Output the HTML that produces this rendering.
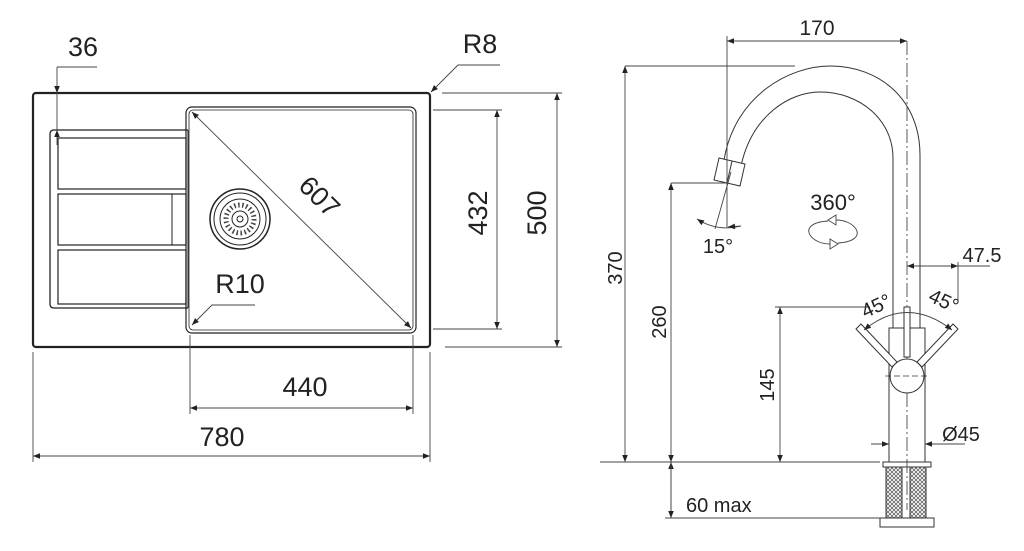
<!DOCTYPE html>
<html><head><meta charset="utf-8"><style>
html,body{margin:0;padding:0;background:#fff;}
svg{display:block;}
text{font-family:"Liberation Sans",sans-serif;fill:#222;}
</style></head><body>
<svg width="1024" height="551" viewBox="0 0 1024 551" xmlns="http://www.w3.org/2000/svg">
<defs>
<marker id="a" viewBox="0 0 10 10" refX="10" refY="5" markerWidth="16" markerHeight="7" markerUnits="userSpaceOnUse" orient="auto-start-reverse"><path d="M0,1 L10,5 L0,9 z" fill="#222"/></marker>
<pattern id="k" width="4" height="4" patternUnits="userSpaceOnUse"><path d="M0,0 L4,4 M4,0 L0,4" stroke="#666" stroke-width="0.8"/></pattern>
</defs>
<g fill="none" stroke="#222">
<rect x="33" y="93" width="397" height="254" rx="3" stroke-width="2.2"/>
<rect x="186" y="107" width="230" height="226" rx="6" stroke-width="1.2"/>
<rect x="189" y="110" width="224" height="220" rx="4" stroke-width="0.8"/>
<path d="M188,130 L54,130 Q50,130 50,134 L50,304 Q50,308 54,308 L188,308" stroke-width="1.3"/>
<rect x="58" y="138" width="128" height="51" stroke-width="1.2"/>
<rect x="58" y="194" width="128" height="51" stroke-width="1.2"/>
<rect x="58" y="250" width="128" height="54" stroke-width="1.2"/>
<line x1="172" y1="194" x2="172" y2="245" stroke-width="1"/>
<line x1="188" y1="130" x2="188" y2="308" stroke-width="1"/>
<circle cx="240" cy="219" r="30" stroke-width="1.5"/>
<circle cx="240" cy="219" r="26" stroke-width="1"/>
<circle cx="240" cy="219" r="20" stroke-width="1"/>
<circle cx="240" cy="219" r="14" stroke-width="5" stroke-dasharray="1.5 2.5" stroke="#444"/>
<circle cx="240" cy="219" r="8" stroke-width="1"/>
<circle cx="240" cy="219" r="3" stroke-width="1"/>
</g>
<g fill="none" stroke="#444" stroke-width="0.9">
<line x1="192" y1="112" x2="411" y2="328" marker-start="url(#a)" marker-end="url(#a)"/>
<polyline points="255,305 212,305 192,325" marker-end="url(#a)"/>
<line x1="57" y1="67" x2="97" y2="67"/>
<line x1="57" y1="67" x2="57" y2="93" marker-end="url(#a)"/>
<line x1="57" y1="145" x2="57" y2="130" marker-end="url(#a)"/>
<line x1="57" y1="93" x2="57" y2="130"/>
<polyline points="500,65 458,65 431,92" marker-end="url(#a)"/>
<line x1="433" y1="110" x2="502" y2="110"/>
<line x1="433" y1="329" x2="502" y2="329"/>
<line x1="497" y1="110" x2="497" y2="329" marker-start="url(#a)" marker-end="url(#a)"/>
<line x1="442" y1="93" x2="562" y2="93"/>
<line x1="445" y1="347" x2="562" y2="347"/>
<line x1="557" y1="93" x2="557" y2="347" marker-start="url(#a)" marker-end="url(#a)"/>
<line x1="190" y1="335" x2="190" y2="414"/>
<line x1="413" y1="335" x2="413" y2="414"/>
<line x1="190" y1="408" x2="413" y2="408" marker-start="url(#a)" marker-end="url(#a)"/>
<line x1="33" y1="352" x2="33" y2="462"/>
<line x1="430" y1="352" x2="430" y2="462"/>
<line x1="33" y1="456" x2="430" y2="456" marker-start="url(#a)" marker-end="url(#a)"/>
</g>
<text x="83" y="56" font-size="27" text-anchor="middle">36</text>
<text x="480" y="53" font-size="27" text-anchor="middle">R8</text>
<text x="240" y="293" font-size="27" text-anchor="middle">R10</text>
<text x="0" y="0" font-size="27" text-anchor="middle" transform="translate(313,203) rotate(45)">607</text>
<text x="0" y="0" font-size="27" text-anchor="middle" transform="translate(487,213) rotate(-90)">432</text>
<text x="0" y="0" font-size="27" text-anchor="middle" transform="translate(546,213) rotate(-90)">500</text>
<text x="305" y="396" font-size="27" text-anchor="middle">440</text>
<text x="222" y="446" font-size="27" text-anchor="middle">780</text>

<g fill="none" stroke="#333" stroke-width="1">
<path d="M724,160 C735,95 790,66 830,66 C880,66 920,100 920,155 L920,328"/>
<path d="M741,166 C752,115 790,92 820,92 C860,92 893,120 893,158 L893,328"/>
<polygon points="719,158 745,164 740,186 714,180" fill="#fff"/>
<line x1="732" y1="161" x2="727" y2="183"/>
<line x1="907" y1="41" x2="907" y2="510" stroke-dasharray="14 3 2 3" stroke-width="0.8"/>
<rect x="889" y="328" width="36" height="134"/>
<circle cx="907" cy="376" r="17" fill="#fff"/>
<line x1="885" y1="376" x2="929" y2="376" stroke-dasharray="6 3" stroke-width="0.7"/>
<rect x="904" y="307" width="6" height="50" fill="#fff"/>
<polygon points="856,329 861,324 897,362 892,367" fill="#fff"/>
<polygon points="958,329 953,324 917,362 922,367" fill="#fff"/>
<rect x="883" y="462" width="48" height="5"/>
<rect x="886" y="467" width="16" height="51" fill="url(#k)"/>
<rect x="910" y="467" width="16" height="51" fill="url(#k)"/>
<rect x="880" y="518" width="54" height="9"/>
</g>
<g fill="none" stroke="#444" stroke-width="0.9">
<line x1="727" y1="41" x2="907" y2="41" marker-start="url(#a)" marker-end="url(#a)"/>
<line x1="727" y1="36" x2="727" y2="228"/>
<line x1="731" y1="172" x2="715" y2="229"/>
<path d="M697,219 Q717,232 741,226" marker-start="url(#a)"/>
<line x1="741" y1="226" x2="728" y2="227" marker-end="url(#a)"/>
<line x1="625" y1="66" x2="795" y2="66"/>
<line x1="625" y1="66" x2="625" y2="462" marker-start="url(#a)" marker-end="url(#a)"/>
<line x1="671" y1="183" x2="727" y2="183"/>
<line x1="671" y1="183" x2="671" y2="462" marker-start="url(#a)" marker-end="url(#a)"/>
<line x1="775" y1="307" x2="870" y2="307"/>
<line x1="780" y1="307" x2="780" y2="462" marker-start="url(#a)" marker-end="url(#a)"/>
<line x1="600" y1="462" x2="880" y2="462"/>
<line x1="671" y1="518" x2="671" y2="462" marker-end="url(#a)"/>
<line x1="671" y1="462" x2="671" y2="518" marker-end="url(#a)"/>
<line x1="665" y1="518" x2="880" y2="518"/>
<line x1="907" y1="266" x2="958" y2="266" marker-start="url(#a)" marker-end="url(#a)"/>
<line x1="958" y1="262" x2="958" y2="300"/>
<line x1="958" y1="266" x2="990" y2="266"/>
<path d="M864,330 Q907,295 952,330" marker-start="url(#a)" marker-end="url(#a)"/>
<line x1="871" y1="444" x2="889" y2="444" marker-end="url(#a)"/>
<line x1="965" y1="444" x2="925" y2="444" marker-end="url(#a)"/>
<path d="M828,221 C812,222 806,228 810,235 C814,241 822,244 830,244"/>
<path d="M838,243 C854,242 860,236 856,229 C852,223 844,220 836,220"/>
<polygon points="830,239 838,244 830,249" fill="#fff"/>
<polygon points="836,215 828,220 836,225" fill="#fff"/>
</g>
<text x="817" y="35" font-size="21" text-anchor="middle">170</text>
<text x="833" y="210" font-size="22" text-anchor="middle">360°</text>
<text x="718" y="253" font-size="20" text-anchor="middle">15°</text>
<text x="982" y="262" font-size="20" text-anchor="middle">47.5</text>
<text x="0" y="0" font-size="20" text-anchor="middle" transform="translate(879,312) rotate(-25)">45°</text>
<text x="0" y="0" font-size="20" text-anchor="middle" transform="translate(941,307) rotate(25)">45°</text>
<text x="961" y="441" font-size="20" text-anchor="middle">Ø45</text>
<text x="0" y="0" font-size="20" text-anchor="middle" transform="translate(622,268) rotate(-90)">370</text>
<text x="0" y="0" font-size="20" text-anchor="middle" transform="translate(666,322) rotate(-90)">260</text>
<text x="0" y="0" font-size="20" text-anchor="middle" transform="translate(774,385) rotate(-90)">145</text>
<text x="686" y="512" font-size="20">60 max</text>
</svg>
</body></html>
